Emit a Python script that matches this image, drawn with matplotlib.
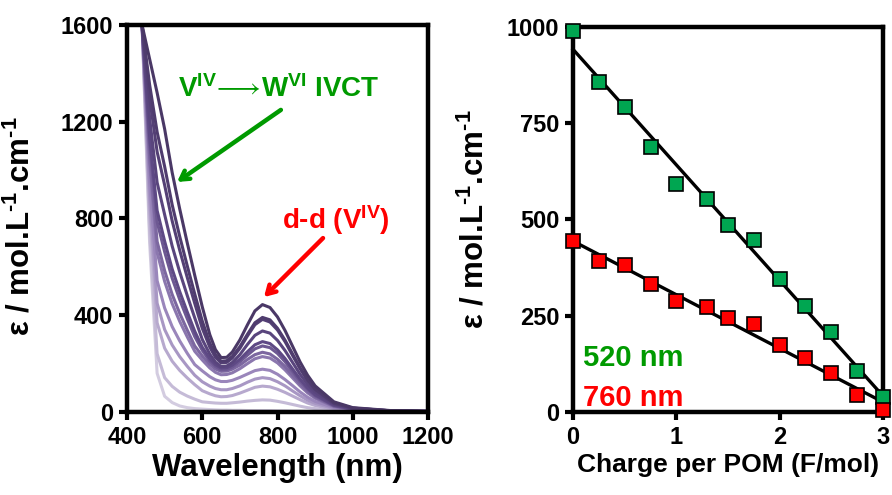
#!/usr/bin/env python3

import matplotlib
matplotlib.use("Agg")
import matplotlib.pyplot as plt
import numpy as np
from matplotlib.colors import LinearSegmentedColormap

# wavelength grid (nm) for the spectra
wavelength = [440, 460, 480, 500, 520, 540, 560, 580, 600, 620, 635, 650, 665, 680, 700,
              720, 740, 760, 780, 800, 820, 840, 860, 880, 900, 950, 1000, 1100, 1200]

# one spectrum per charge step, most reduced (0 F/mol) first
spectra = [
    [1600, 1460, 1320, 1170, 990, 840, 700, 565, 435, 320, 258, 225, 226, 248, 298,
     360, 418, 444, 432, 393, 337, 272, 207, 152, 108, 42, 18, 6, 3],
    [1600, 1354, 1158, 1015, 857, 726, 605, 488, 376, 285, 237, 210, 212, 230, 270,
     321, 369, 391, 381, 346, 297, 240, 183, 134, 95, 37, 16, 5, 3],
    [1600, 1300, 1076, 938, 790, 669, 557, 449, 346, 268, 226, 203, 205, 223, 263,
     314, 361, 383, 372, 339, 291, 234, 179, 131, 93, 36, 16, 5, 3],
    [1600, 1217, 949, 816, 686, 579, 482, 389, 300, 239, 206, 188, 190, 205, 237,
     279, 317, 335, 326, 296, 254, 205, 156, 115, 82, 32, 14, 5, 2],
    [1600, 1141, 833, 706, 591, 498, 414, 334, 268, 221, 196, 182, 183, 194, 218,
     249, 278, 291, 283, 257, 221, 178, 136, 100, 71, 28, 12, 4, 2],
    [1600, 1110, 786, 662, 553, 465, 386, 312, 255, 211, 188, 175, 176, 186, 208,
     235, 261, 273, 266, 242, 208, 167, 128, 94, 67, 26, 12, 4, 2],
    [1600, 1057, 705, 584, 486, 408, 339, 273, 232, 197, 178, 168, 169, 177, 194,
     217, 237, 247, 240, 218, 188, 151, 116, 85, 61, 24, 11, 4, 2],
    [1600, 1027, 659, 540, 448, 375, 311, 251, 215, 182, 164, 154, 155, 162, 179,
     200, 220, 229, 223, 203, 174, 141, 108, 79, 57, 22, 10, 4, 2],
    [1600, 951, 543, 430, 353, 294, 243, 196, 170, 146, 133, 126, 126, 131, 143,
     157, 171, 177, 172, 156, 134, 109, 83, 61, 44, 18, 8, 3, 2],
    [1600, 890, 450, 341, 277, 229, 189, 152, 125, 107, 97, 92, 92, 97, 108,
     123, 136, 142, 138, 125, 108, 87, 67, 49, 36, 14, 7, 3, 2],
    [1600, 837, 369, 264, 210, 172, 141, 113, 88, 75, 67, 63, 64, 68, 78,
     90, 102, 107, 104, 94, 81, 66, 51, 37, 27, 11, 6, 2, 1],
    [1600, 753, 241, 142, 106, 82, 66, 53, 42, 39, 37, 36, 36, 38, 41,
     45, 48, 50, 49, 44, 38, 31, 24, 18, 14, 6, 4, 2, 1],
    [1600, 700, 160, 65, 39, 25, 18, 14, 12, 10, 9, 8, 8, 7, 7,
     6, 6, 6, 6, 5, 5, 4, 4, 3, 3, 2, 2, 1, 1],
]

# right panel: epsilon vs charge
charge = [0, 0.25, 0.5, 0.75, 1.0, 1.3, 1.5, 1.75, 2.0, 2.25, 2.5, 2.75, 3.0]
eps_520 = [990, 857, 792, 688, 593, 554, 485, 446, 346, 274, 208, 106, 39]
eps_760 = [444, 391, 381, 333, 288, 273, 244, 228, 173, 139, 101, 45, 6]

GREEN_TXT = '#009a00'
GREEN_PT = '#00a651'
RED = '#ff0000'
YLABEL = "ε / mol.L$^{\u20101}$.cm$^{\u20101}$"


def style_axes(ax):
    for sp in ax.spines.values():
        sp.set_linewidth(3.2)
        sp.set_color('black')
    ax.tick_params(direction='out', length=6, width=3, labelsize=17, pad=4)
    for lab in ax.get_xticklabels() + ax.get_yticklabels():
        lab.set_fontweight('bold')


def plot_spectra(ax):
    cmap = LinearSegmentedColormap.from_list('purp', ['#d3cce0', '#9a86bb', '#5e4985', '#4a3866'])
    n = len(spectra)
    # lightest first so the darker curves end on top
    for i in reversed(range(n)):
        ax.plot(wavelength, spectra[i], color=cmap(1 - i / (n - 1)), lw=2.2,
                solid_joinstyle='round', zorder=2)
    ax.set_xlim(400, 1200)
    ax.set_ylim(0, 1600)
    ax.set_xticks(np.arange(400, 1201, 200))
    ax.set_yticks(np.arange(0, 1601, 400))
    ax.set_xlabel("Wavelength (nm)", fontsize=22.5, fontweight='bold', labelpad=3)
    ax.set_ylabel(YLABEL, fontsize=22.5, fontweight='bold')
    ax.yaxis.set_label_coords(-0.3, 0.48)

    ax.text(804, 1335, r"V$^{IV}\!\longrightarrow\!$W$^{VI}$ IVCT", color=GREEN_TXT,
            fontsize=20, fontweight='bold', ha='center', va='center')
    ax.annotate('', xy=(533, 951), xytext=(809, 1249),
                arrowprops=dict(arrowstyle='->,head_length=0.6,head_width=0.35', lw=3.2,
                                color=GREEN_TXT, shrinkA=0, shrinkB=0))
    ax.text(955, 795, r"d-d (V$^{IV}$)", color=RED,
            fontsize=20, fontweight='bold', ha='center', va='center')
    ax.annotate('', xy=(764, 475), xytext=(921, 719),
                arrowprops=dict(arrowstyle='->,head_length=0.6,head_width=0.35', lw=3.2,
                                color=RED, shrinkA=0, shrinkB=0))
    style_axes(ax)


def plot_charge(ax):
    x = np.array(charge)
    for yv, col in ((eps_520, GREEN_PT), (eps_760, RED)):
        slope, icpt = np.polyfit(x, yv, 1)
        xx = np.array([x.min(), x.max()])
        ax.plot(xx, slope * xx + icpt, color='black', lw=2.4, zorder=3, clip_on=False)
        ax.plot(x, yv, 's', ms=9.5, mfc=col, mec='black', mew=1.2, zorder=4, clip_on=False)
    ax.set_xlim(0, 3)
    ax.set_ylim(0, 1000)
    ax.set_xticks([0, 1, 2, 3])
    ax.set_yticks([0, 250, 500, 750, 1000])
    ax.set_xlabel("Charge per POM (F/mol)", fontsize=19, fontweight='bold', labelpad=3)
    ax.set_ylabel(YLABEL, fontsize=22.5, fontweight='bold')
    ax.yaxis.set_label_coords(-0.265, 0.5)
    ax.text(0.097, 140, "520 nm", color=GREEN_TXT, fontsize=21, fontweight='bold', va='center')
    ax.text(0.097, 36, "760 nm", color=RED, fontsize=21, fontweight='bold', va='center')
    style_axes(ax)


def main():
    plt.rcParams['font.family'] = ['Liberation Sans', 'DejaVu Sans']
    plt.rcParams['mathtext.fontset'] = 'custom'
    plt.rcParams['mathtext.rm'] = 'Liberation Sans:bold'
    plt.rcParams['mathtext.bf'] = 'Liberation Sans:bold'
    plt.rcParams['mathtext.it'] = 'Liberation Sans:bold'
    plt.rcParams['mathtext.default'] = 'regular'

    fig = plt.figure(figsize=(8.92, 4.95), dpi=100)
    ax1 = fig.add_axes([0.1424, 0.1677, 0.3374, 0.7818])
    ax2 = fig.add_axes([0.6424, 0.1677, 0.3475, 0.7778])
    plot_spectra(ax1)
    plot_charge(ax2)
    fig.savefig("out.png", dpi=100)


if __name__ == '__main__':
    main()
